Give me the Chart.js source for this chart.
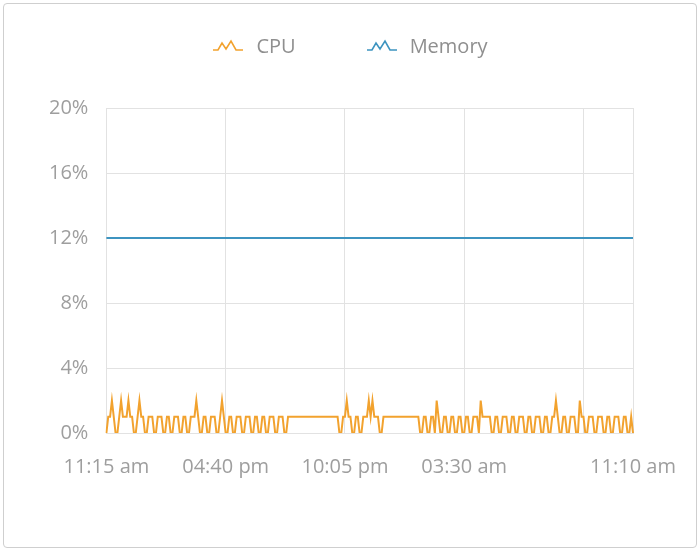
<!DOCTYPE html>
<html>
<head>
<meta charset="utf-8">
<script src="https://cdn.jsdelivr.net/npm/chart.js@4.4.1/dist/chart.umd.min.js"></script>
<style>
  body { margin: 0; background: #fff; font-family: "Open Sans", sans-serif; }
  #wrap { position: relative; width: 700px; height: 553px; }
  #card { position: absolute; left: 3px; top: 3px; width: 692px; height: 543px;
          border: 1px solid #cfcfcf; border-radius: 4px; }
  #chart { position: absolute; left: 0; top: 0; }
  #legend { position: absolute; top: 32px; left: 0; width: 700px; display: flex;
            justify-content: center; gap: 70px; font-size: 20px; line-height: 27px; color: #8f8f8f; }
  #legend span { display: flex; align-items: center; }
  #legend svg { margin-right: 12px; }
</style>
</head>
<body>
<div id="wrap">
  <div id="card"></div>
  <canvas id="chart" width="700" height="553"></canvas>
  <div id="legend"></div>
</div>
<script>
// 5-minute samples, 11:15 am -> 11:10 am next day
const startMinutes = 11 * 60 + 15;
const sampleCount = 288;

const tickIndex = [0, 65, 130, 195, 260, 287];
const tickLabels = ["11:15 am", "04:40 pm", "10:05 pm", "03:30 am", "", "11:10 am"];
const yTicks = [0, 4, 8, 12, 16, 20];

const cpuValues = [
  0,1,1,2,1,0,0,1,2,1,1,1,2,1,1,0,0,1,2,1,1,0,0,1,
  1,1,0,0,1,1,1,0,0,1,1,0,0,1,1,1,0,0,1,1,0,0,1,1,
  1,2,1,0,0,1,1,0,0,1,1,1,0,0,1,2,1,0,0,1,1,0,0,1,
  1,1,0,0,1,1,1,0,0,1,1,0,0,1,1,0,0,1,1,1,0,0,1,1,
  1,0,0,1,1,1,1,1,1,1,1,1,1,1,1,1,1,1,1,1,1,1,1,1,
  1,1,1,1,1,1,1,0,0,1,1,2,1,1,0,0,1,1,0,0,1,1,1,2,
  1,2,1,1,1,0,0,1,1,1,1,1,1,1,1,1,1,1,1,1,1,1,1,1,
  1,1,1,0,0,1,1,0,0,1,1,0,2,1,0,0,1,1,0,0,1,1,0,0,
  1,1,0,0,1,1,0,0,1,1,1,0,2,1,1,1,1,1,0,0,1,1,0,0,
  1,1,1,0,0,1,1,0,0,1,1,1,0,0,1,1,0,0,1,1,1,0,0,1,
  1,0,0,1,1,2,1,0,0,1,1,0,0,1,1,1,0,0,2,1,1,0,0,1,
  1,1,0,0,1,1,1,0,0,1,1,0,0,1,1,1,0,0,1,1,0,0,1,0
];

const memoryValues = [
  12,12,12,12,12,12,12,12,12,12,12,12,12,12,12,12,12,12,12,12,12,12,12,12,
  12,12,12,12,12,12,12,12,12,12,12,12,12,12,12,12,12,12,12,12,12,12,12,12,
  12,12,12,12,12,12,12,12,12,12,12,12,12,12,12,12,12,12,12,12,12,12,12,12,
  12,12,12,12,12,12,12,12,12,12,12,12,12,12,12,12,12,12,12,12,12,12,12,12,
  12,12,12,12,12,12,12,12,12,12,12,12,12,12,12,12,12,12,12,12,12,12,12,12,
  12,12,12,12,12,12,12,12,12,12,12,12,12,12,12,12,12,12,12,12,12,12,12,12,
  12,12,12,12,12,12,12,12,12,12,12,12,12,12,12,12,12,12,12,12,12,12,12,12,
  12,12,12,12,12,12,12,12,12,12,12,12,12,12,12,12,12,12,12,12,12,12,12,12,
  12,12,12,12,12,12,12,12,12,12,12,12,12,12,12,12,12,12,12,12,12,12,12,12,
  12,12,12,12,12,12,12,12,12,12,12,12,12,12,12,12,12,12,12,12,12,12,12,12,
  12,12,12,12,12,12,12,12,12,12,12,12,12,12,12,12,12,12,12,12,12,12,12,12,
  12,12,12,12,12,12,12,12,12,12,12,12,12,12,12,12,12,12,12,12,12,12,12,12
];

const seriesNames = ["CPU", "Memory"];
const seriesColors = ["#f2a22e", "#3d94c0"];

function timeLabel(i) {
  const m = (startMinutes + i * 5) % 1440;
  let h = Math.floor(m / 60);
  const ampm = h < 12 ? "am" : "pm";
  h = h % 12 || 12;
  return `${String(h).padStart(2, "0")}:${String(m % 60).padStart(2, "0")} ${ampm}`;
}

const labels = [];
for (let i = 0; i < sampleCount; i++) labels.push(timeLabel(i));

const gridColor = "#e2e2e2";
const tickFont = { family: "Open Sans", size: 20 };

const chart = new Chart(document.getElementById("chart"), {
  type: "line",
  data: {
    labels: labels,
    datasets: [
      { label: seriesNames[0], data: cpuValues, borderColor: seriesColors[0], borderWidth: 2,
        pointRadius: 0, tension: 0, fill: false },
      { label: seriesNames[1], data: memoryValues, borderColor: seriesColors[1], borderWidth: 2,
        pointRadius: 0, tension: 0, fill: false }
    ]
  },
  options: {
    responsive: false,
    animation: false,
    layout: { padding: { top: 108, left: 31, right: 67, bottom: 52 } },
    plugins: { legend: { display: false }, tooltip: { enabled: false } },
    scales: {
      x: {
        grid: { color: gridColor, drawTicks: false },
        border: { color: gridColor },
        ticks: {
          autoSkip: false, maxRotation: 0, padding: 22,
          color: "#9e9e9e", font: tickFont,
          callback: function (value, index) {
            const k = tickIndex.indexOf(index);
            return k === -1 ? null : tickLabels[k];
          }
        }
      },
      y: {
        min: 0, max: 20,
        grid: { color: gridColor, drawTicks: false },
        border: { color: gridColor },
        afterBuildTicks: axis => { axis.ticks = yTicks.map(v => ({ value: v })); },
        ticks: {
          padding: 18,
          color: "#9e9e9e", font: tickFont,
          callback: v => v + "%"
        }
      }
    }
  }
});

// html legend with small zigzag icons
const legend = document.getElementById("legend");
chart.data.datasets.forEach(ds => {
  legend.insertAdjacentHTML("beforeend", `<span>
    <svg width="32" height="16"><polyline points="1,12 6,12 10,5 14,11 19,3 24,12 31,12"
      fill="none" stroke="${ds.borderColor}" stroke-width="1.6"/></svg>${ds.label}</span>`);
});
</script>
</body>
</html>
